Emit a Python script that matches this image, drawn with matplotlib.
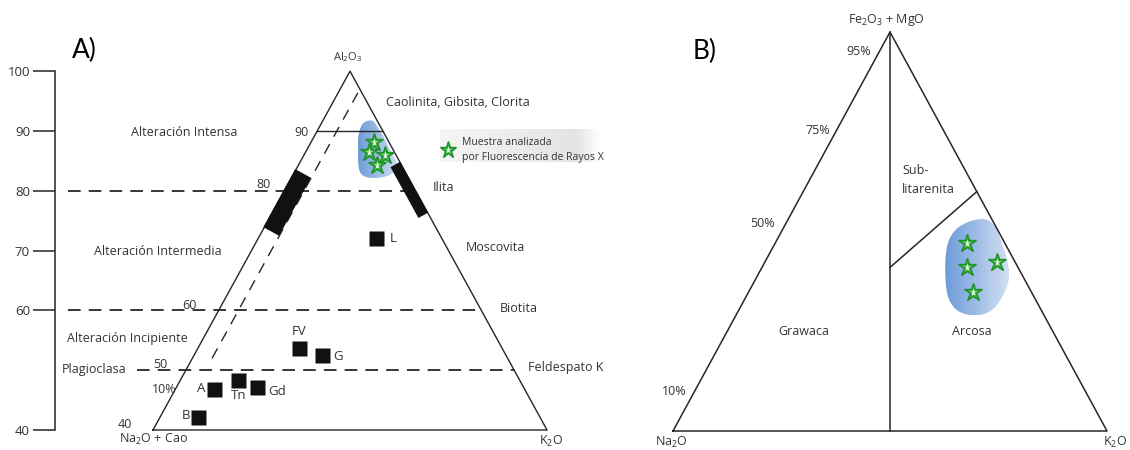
import numpy as np
import matplotlib
matplotlib.use("Agg")
import matplotlib.pyplot as plt
from matplotlib.patches import Polygon
from matplotlib.colors import LinearSegmentedColormap

plt.rcParams["font.family"] = ["Open Sans", "DejaVu Sans"]
plt.rcParams["mathtext.fontset"] = "custom"
plt.rcParams["mathtext.rm"] = "Open Sans"
plt.rcParams["mathtext.default"] = "regular"

INK = "#262626"
TXT = "#333333"

# ---------------------------------------------------------------
# A) diagrama A-CN-K  (Al2O3 / CaO+Na2O / K2O, % molar)
# ---------------------------------------------------------------
muestras = ["A", "B", "Tn", "Gd", "FV", "G", "L"]
al2o3 = [46.9, 42.2, 48.4, 47.2, 53.7, 52.5, 72.1]
k2o = [5.9, 5.8, 8.8, 12.2, 15.4, 19.5, 17.9]

# muestras analizadas por fluorescencia de rayos X
frx_al2o3 = [88.2, 86.5, 86.0, 84.3]
frx_k2o = [9.5, 9.7, 12.3, 12.0]

escala_cia = [40, 60, 70, 80, 90, 100]
limites_alteracion = [80, 60, 50]

# campo de las muestras FRX (Al2O3, K2O)
campo_a_al = [91.0, 91.7, 91.8, 91.1, 90.0, 88.4, 86.6, 85.0, 83.8, 83.0,
              82.3, 82.1, 82.3, 83.0, 84.3, 86.8, 89.0]
campo_a_k = [6.2, 6.6, 7.6, 8.4, 9.6, 11.2, 12.9, 14.6, 15.5, 15.2,
             14.2, 12.6, 11.1, 10.0, 9.1, 7.8, 6.7]

# ---------------------------------------------------------------
# B) Fe2O3+MgO / Na2O / K2O
# ---------------------------------------------------------------
frx_femg = [47.0, 41.2, 42.4, 34.8]
frx_k2o_b = [44.2, 47.1, 53.4, 51.7]
marcas_b = [95, 75, 50, 10]

campo_b_fm = [53.3, 52.1, 49.6, 45.8, 39.9, 34.1, 30.8, 29.1, 28.9, 30.1,
              32.4, 35.8, 39.1, 43.3, 47.4, 50.8, 52.9]
campo_b_k = [44.1, 40.9, 39.4, 40.0, 42.7, 46.0, 49.2, 52.7, 56.3, 58.4,
             59.1, 59.0, 58.1, 55.3, 52.0, 49.2, 46.4]


def acnk(al, k):
    """A-CN-K -> coordenadas del diagrama (x, Al2O3)."""
    al = np.asarray(al, float)
    k = np.asarray(k, float)
    return k + al / 2, al


def fnk(fm, k):
    """Fe2O3+MgO / Na2O / K2O -> coordenadas del triangulo unidad."""
    fm = np.asarray(fm, float)
    k = np.asarray(k, float)
    return (k + fm / 2) / 100, fm / 100


def suavizar(xs, ys, n=3):
    pts = np.column_stack([xs, ys])
    for _ in range(n):
        q = np.roll(pts, -1, axis=0)
        a = 0.75 * pts + 0.25 * q
        b = 0.25 * pts + 0.75 * q
        pts = np.stack([a, b], axis=1).reshape(-1, 2)
    return pts


def mancha(ax, xs, ys, c0="#6d9bd8", c1="#d2e0f3"):
    pts = suavizar(xs, ys)
    patch = Polygon(pts, closed=True, fc="none", ec="none")
    ax.add_patch(patch)
    cmap = LinearSegmentedColormap.from_list("mancha", [c0, c1])
    grad = np.linspace(0, 1, 256)[None, :]
    ext = [pts[:, 0].min(), pts[:, 0].max(), pts[:, 1].min(), pts[:, 1].max()]
    im = ax.imshow(grad, cmap=cmap, extent=ext, aspect="auto",
                   origin="lower", zorder=1, interpolation="bilinear")
    im.set_clip_path(patch)


def barra(ax, x, y, ancho):
    # rectangulo negro a lo largo de un lado, ancho en pixeles
    p = ax.transData.transform(np.column_stack([x, y]))
    d = p[1] - p[0]
    n = np.array([-d[1], d[0]]) / np.hypot(*d) * ancho / 2
    esq = np.array([p[0] + n, p[1] + n, p[1] - n, p[0] - n])
    ax.add_patch(Polygon(ax.transData.inverted().transform(esq), closed=True,
                         fc="#111111", ec="none", zorder=4))


def estrellas(ax, x, y, ms=13.5):
    ax.plot(x, y, ls="none", marker="*", ms=ms, mfc="#3cb043",
            mec="#1f8f2a", mew=1.0, zorder=6)
    ax.plot(x, y, ls="none", marker="*", ms=ms * 0.42, mfc="#eaffdf",
            mec="none", zorder=7)


fig = plt.figure(figsize=(11.3, 4.5), dpi=100)
fig.patch.set_facecolor("white")

# ------------------------- panel A -------------------------
axA = fig.add_axes([0, 0, 630 / 1130, 1])
axA.set_xlim(-3.298, 92.636)
axA.set_ylim(36.656, 111.906)
for s in ["top", "right", "bottom"]:
    axA.spines[s].set_visible(False)
axA.spines["left"].set_position(("data", 5.08))
axA.spines["left"].set_bounds(40, 100)
axA.spines["left"].set_linewidth(1.1)
axA.spines["left"].set_color(INK)
axA.set_xticks([])
axA.set_yticks(escala_cia)
axA.tick_params(axis="y", direction="out", length=16, width=1.1,
                color=INK, pad=2, labelsize=9.5, labelcolor=TXT)

# triangulo truncado en Al2O3 = 40
tri_x, tri_y = acnk([40, 100, 40, 40], [0, 0, 60, 0])
axA.plot(tri_x, tri_y, color=INK, lw=1.0, zorder=3)

# linea solida de 90
lx, ly = acnk([90, 90], [0, 10])
axA.plot(lx, ly, color=INK, lw=1.0, zorder=3)

# limites de alteracion (discontinuos)
for v, x0 in zip(limites_alteracion, [7.06, 7.06, 17.6]):
    xr, _ = acnk(v, 100 - v)
    axA.plot([x0, xr], [v, v], color=INK, lw=1.3, dashes=(7, 4.5), zorder=2)

# linea de tendencia K2O ~ 3
dx, dy = acnk([52, 97], [3, 3])
axA.plot(dx, dy, color=INK, lw=1.0, dashes=(8, 6), zorder=2)

# barras de minerales junto a los lados
barra(axA, *acnk([73.2, 82.9], [1.4, 1.4]), 18)
barra(axA, *acnk([75.9, 84.4], [100 - 75.9 - 0.9, 100 - 84.4 - 0.9]), 11)

# campo FRX y estrellas
mancha(axA, *acnk(campo_a_al, campo_a_k))
estrellas(axA, *acnk(frx_al2o3, frx_k2o))

# muestras
sx, sy = acnk(al2o3, k2o)
axA.plot(sx, sy, ls="none", marker="s", ms=10.8, color="#111111",
         mec="none", zorder=5)
etq = {"A": ((-6.5, 0), "right"), "B": ((-6, 0.7), "right"),
       "Tn": ((0, -11), "center"), "Gd": ((8, -3), "left"),
       "FV": ((0, 12), "center"), "G": ((8, -1), "left"),
       "L": ((10, 0), "left")}
for nom, x, y in zip(muestras, sx, sy):
    off, ha = etq[nom]
    axA.annotate(nom, (x, y), xytext=off, textcoords="offset points",
                 ha=ha, va="center", fontsize=9.5, color=TXT)

# recuadro de leyenda
leg = LinearSegmentedColormap.from_list(
    "leg", [(0, "#f6f6f6"), (0.85, "#e4e4e4"), (1, "#ffffff")])
axA.imshow(np.linspace(0, 1, 256)[None, :], cmap=leg, aspect="auto",
           extent=[63.7, 88.07, 84.8, 90.17], origin="lower", zorder=1)
estrellas(axA, [64.92], [86.8], ms=12.5)
axA.text(67.05, 88.16, "Muestra analizada", fontsize=7.5, color=TXT,
         ha="left", va="center")
axA.text(67.05, 85.65, "por Fluorescencia de Rayos X", fontsize=7.5,
         color=TXT, ha="left", va="center")

textos_a = [
    ("Al$_2$O$_3$", 49.7, 102.4, "center", 8),
    ("Caolinita, Gibsita, Clorita", 55.5, 94.7, "left", 9),
    ("Alteración Intensa", 16.65, 89.8, "left", 9),
    ("90", 43.75, 89.7, "right", 9),
    ("80", 36.9, 81.0, "center", 9),
    ("Ilita", 62.6, 80.5, "left", 9),
    ("Alteración Intermedia", 11.0, 69.8, "left", 9),
    ("Moscovita", 67.66, 70.6, "left", 9),
    ("60", 25.48, 60.9, "center", 9),
    ("Biotita", 72.84, 60.4, "left", 9),
    ("Alteración Incipiente", 6.9, 55.3, "left", 9),
    ("Plagioclasa", 6.14, 50.2, "left", 9),
    ("50", 21.07, 50.9, "center", 9),
    ("Feldespato K", 77.1, 50.37, "left", 9),
    ("10%", 19.85, 46.7, "left", 9),
    ("40", 15.74, 40.84, "center", 9),
    ("Na$_2$O + Cao", 20.08, 38.5, "center", 9),
    ("K$_2$O", 80.6, 38.16, "center", 9),
]
for t, x, y, ha, fs in textos_a:
    axA.text(x, y, t, ha=ha, va="center", fontsize=fs, color=TXT)
axA.text(7.67, 103.5, "A)", ha="left", va="center", fontsize=19,
         color="black", family=["Lato", "DejaVu Sans"])

# ------------------------- panel B -------------------------
axB = fig.add_axes([630 / 1130, 0, 500 / 1130, 1])
axB.set_xlim(-0.0991, 1.0530)
axB.set_ylim(-0.0476, 1.0802)
axB.axis("off")

tx, ty = fnk([0, 100, 0, 0], [0, 0, 100, 0])
axB.plot(tx, ty, color=INK, lw=1.1, zorder=3)
mx, my = fnk([100, 0], [0, 50])
axB.plot(mx, my, color=INK, lw=1.1, zorder=3)
dx, dy = fnk([60, 41], [40, 29.5])
axB.plot(dx, dy, color=INK, lw=1.1, zorder=3)

mancha(axB, *fnk(campo_b_fm, campo_b_k))
estrellas(axB, *fnk(frx_femg, frx_k2o_b))

desp = [(-6, 0), (-4, 1), (-5, 6), (-6, 0)]
for v, off in zip(marcas_b, desp):
    px, py = fnk(v, 0)
    axB.annotate(f"{v}%", (px, py), xytext=off, textcoords="offset points",
                 ha="right", va="center", fontsize=9, color=TXT)

textos_b = [
    ("Fe$_2$O$_3$ + MgO", 0.492, 1.031, "center"),
    ("Grawaca", 0.3007, 0.2506, "center"),
    ("Arcosa", 0.689, 0.2506, "center"),
    ("Na$_2$O", -0.0046, -0.0276, "center"),
    ("K$_2$O", 1.0184, -0.0276, "center"),
]
for t, x, y, ha in textos_b:
    axB.text(x, y, t, ha=ha, va="center", fontsize=9, color=TXT)
axB.text(0.5276, 0.629, "Sub-\nlitarenita", ha="left", va="center",
         fontsize=9, color=TXT, linespacing=1.55)
axB.text(0.0461, 0.950, "B)", ha="left", va="center", fontsize=19,
         color="black", family=["Lato", "DejaVu Sans"])

fig.savefig("out.png", dpi=100)
